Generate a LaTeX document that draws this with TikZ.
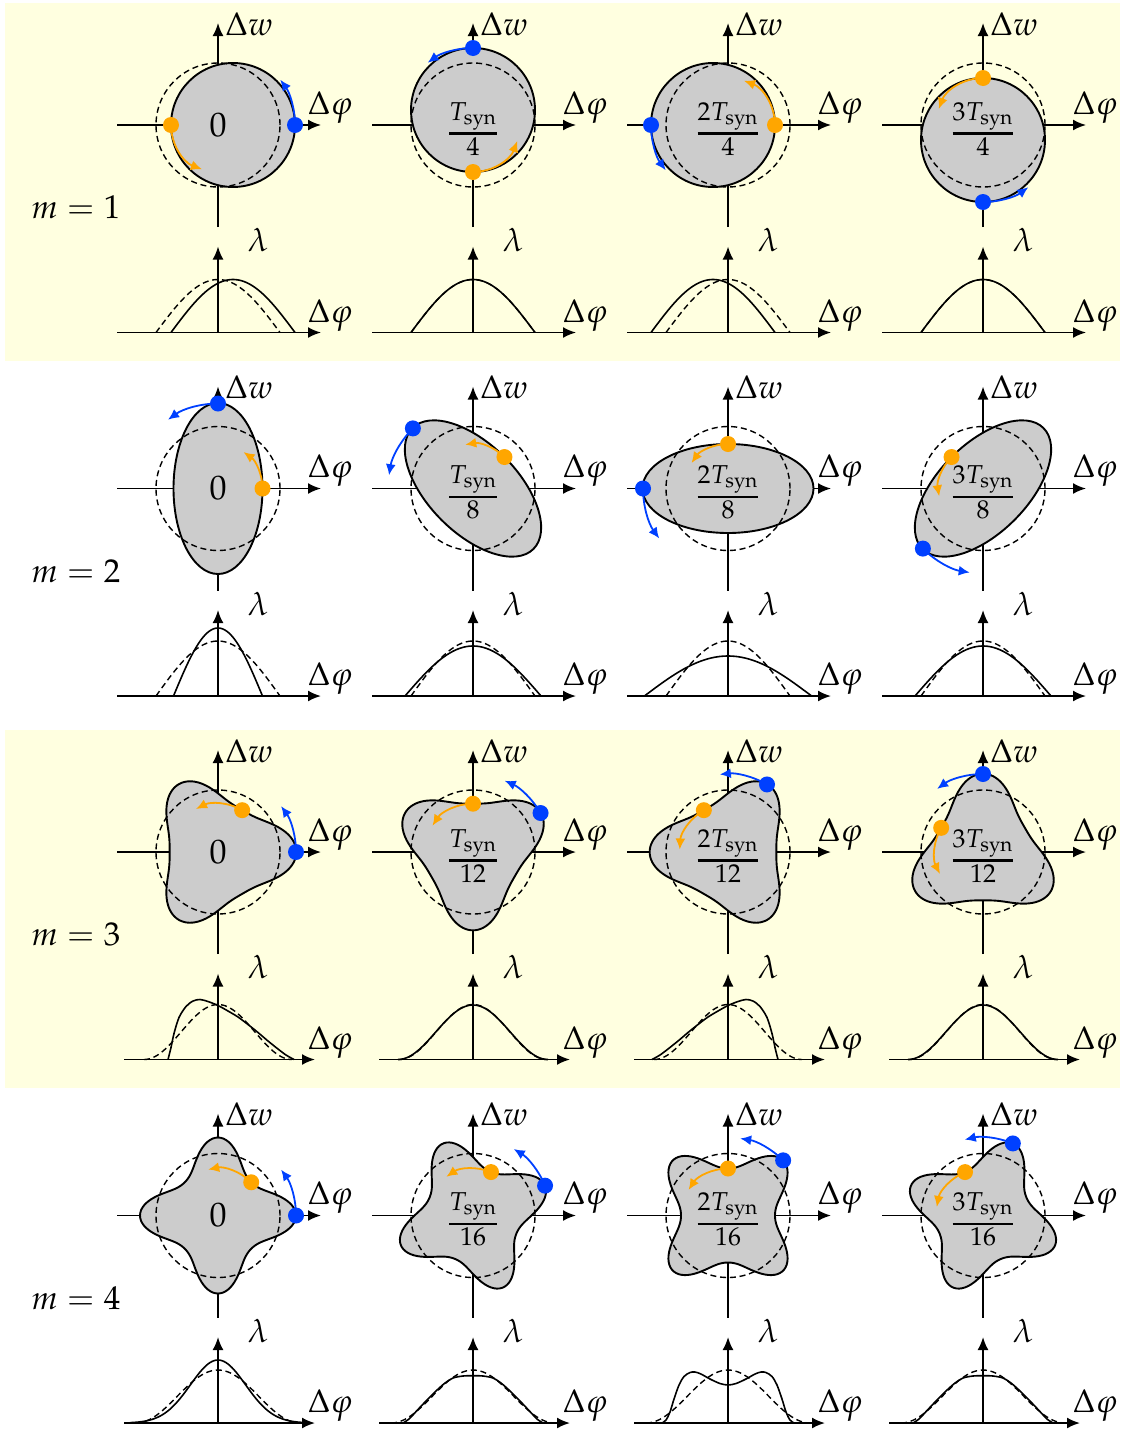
\documentclass[tikz,border=0pt]{standalone}
\usepackage{mathpazo}
\usetikzlibrary{arrows.meta}
\definecolor{bandyellow}{RGB}{255,255,224}
\definecolor{dotblue}{RGB}{0,64,255}
\definecolor{dotorange}{RGB}{255,166,0}
\tikzset{
  axis line/.style={line width=0.95pt, -{Latex[length=6.5pt,width=5.5pt]}},
  bunch/.style={fill=gray!40, draw=black, line width=0.95pt},
  ref line/.style={line width=0.7pt, dash pattern=on 3pt off 1.9pt},
  profile line/.style={line width=0.8pt},
  blue track/.style={dotblue, line width=0.9pt, -{Latex[length=5.5pt,width=5pt]}},
  orange track/.style={dotorange, line width=0.9pt, -{Latex[length=5.5pt,width=5pt]}},
  axis label/.style={font=\fontsize{16.4}{19}\selectfont, inner sep=0pt},
  time label/.style={font=\fontsize{17}{20}\selectfont, inner sep=0pt},
  mode label/.style={font=\fontsize{16.5}{20}\selectfont, inner sep=0pt, anchor=base west},
}
\newcommand{\phaseAxes}[1]{%
  \coordinate (#1xl) at (-101,0); \coordinate (#1xr) at (103,0);
  \coordinate (#1yb) at (0,-102); \coordinate (#1yt) at (0,102);
  \draw[axis line] (#1xl) -- (#1xr);
  \draw[axis line] (#1yb) -- (#1yt);
  \node[axis label] (#1dw) at (31,101) {$\Delta w$};
  \node[axis label] (#1dp) at (112,18) {$\Delta\varphi$};
}
\newcommand{\profileAxes}[3]{%
  \coordinate (#1xl) at (#2,0); \coordinate (#1xr) at (#3,0);
  \coordinate (#1yb) at (0,0); \coordinate (#1yt) at (0,86);
  \draw[axis line] (#1xl) -- (#1xr);
  \draw[axis line] (#1yb) -- (#1yt);
  \node[axis label] (#1lam) at (40,92) {$\lambda$};
  \node[axis label] (#1dp) at (112,17.5) {$\Delta\varphi$};
}
\newcommand{\tracks}[5]{%
  \draw[blue track] (#1:#2) arc[start angle=#1, delta angle=36, radius=#2];
  \draw[orange track] (#3:#4) arc[start angle=#3, delta angle=#5, radius=#4];
  \fill[dotorange] (#3:#4) circle[radius=8];
  \fill[dotblue] (#1:#2) circle[radius=8];
}
\newcommand{\timeLabel}[3]{%
  \ifnum#2=0
    \node[time label] (#1t) at (0,0) {$0$};
  \else
    \node[time label] (#1t) at (0,-4) {${\ifnum#2>1 #2\fi T_{\mathrm{syn}}\above 1.2pt #3}$};
  \fi}
\newcommand{\archProfile}[4]{%
  \pgfmathsetmacro\pLo{#4-#3}\pgfmathsetmacro\pHi{#4+#3}
  \draw[#1] plot[domain=\pLo:\pHi, samples=61] (\x,{#2*cos(90*(\x-(#4))/#3)});}
\newcommand{\bellProfile}[3]{%
  \draw[#1] plot[domain=-#3:#3, samples=81] (\x,{#2*cos(90*\x/#3)*cos(90*\x/#3)});}
\newcommand{\skewThree}[1]{%
  \draw[profile line,#1] plot[smooth] coordinates {(-50,0) (-47,12) (-44,26) (-39,42)
    (-32,53) (-25,58.5) (-18,60) (-10,58) (0,54) (10,48.5) (20,42.5) (30,35) (40,27)
    (50,18.5) (60,10.5) (68,4.5) (76,0)};}
\newcommand{\flatFour}{%
  \draw[profile line] plot[smooth] coordinates {(-70,0) (-64,4) (-56,12.5) (-47,22)
    (-37,32) (-28,40) (-20,45) (-10,47) (0,47.3) (10,47) (20,45) (28,40) (37,32)
    (47,22) (56,12.5) (64,4) (70,0)};}
\newcommand{\humpFour}{%
  \draw[profile line] plot[smooth] coordinates {(-66,0) (-62,3) (-58,11) (-54,24)
    (-49,38) (-44,46.5) (-38,50.5) (-33,51) (-27,49) (-18,44) (-8,39.5) (0,38)
    (8,39.5) (18,44) (27,49) (33,51) (38,50.5) (44,46.5) (49,38) (54,24) (58,11)
    (62,3) (66,0)};}

\begin{document}
\begin{tikzpicture}[x=0.5pt, y=0.5pt]
  \useasboundingbox (0,0) rectangle (1123,-1430);
  \fill[bandyellow] (5,-3) rectangle (1120,-361);
  \fill[bandyellow] (5,-730) rectangle (1120,-1088);
  \foreach \i in {1,...,4}
    \node[mode label] (mode\i) at (31,{-218.5-363.5*(\i-1)}) {$m = \i$};

  % m = 1
  \foreach \j/\a in {0/0,1/90,2/180,3/270}{
    \begin{scope}[shift={(218+255*\j,-125)}]
      \phaseAxes{a\j}
      \filldraw[bunch] (\a:15) circle[radius=62];
      \draw[ref line] (0,0) circle[radius=62];
      \pgfmathsetmacro\ao{\a+180}
      \tracks{\a}{77}{\ao}{47}{70}
      \timeLabel{a\j}{\j}{4}
    \end{scope}
    \begin{scope}[shift={(218+255*\j,-332.5)}]
      \profileAxes{pa\j}{-101}{103}
      \pgfmathsetmacro\ds{15*cos(\a)}
      \archProfile{ref line}{53}{62}{0}
      \archProfile{profile line}{53}{62}{\ds}
    \end{scope}
  }

  % m = 2
  \foreach \j/\a/\pw/\ph in {0/0/44.5/68,1/45/68/50,2/90/83.6/40,3/135/68/50}{
    \begin{scope}[shift={(218+255*\j,-488.5)}]
      \phaseAxes{b\j}
      \filldraw[bunch, rotate=\a] (0,0) ellipse[x radius=44.5, y radius=85.5];
      \draw[ref line] (0,0) circle[radius=62];
      \pgfmathsetmacro\ab{\a+90}
      \tracks{\ab}{85}{\a}{44.5}{55}
      \timeLabel{b\j}{\j}{8}
    \end{scope}
    \begin{scope}[shift={(218+255*\j,-696)}]
      \profileAxes{pb\j}{-101}{103}
      \archProfile{ref line}{55}{62}{0}
      \archProfile{profile line}{\ph}{\pw}{0}
    \end{scope}
  }

  % m = 3
  \foreach \j/\a in {0/0,1/30,2/60,3/90}{
    \begin{scope}[shift={(218+255*\j,-852)}]
      \phaseAxes{c\j}
      \filldraw[bunch] plot[domain=0:360, samples=181]
        (\x:{61+15*cos(3*(\x-\a))+2.35*cos(6*(\x-\a))}) -- cycle;
      \draw[ref line] (0,0) circle[radius=62];
      \pgfmathsetmacro\ao{\a+60}
      \tracks{\a}{78}{\ao}{48.3}{57}
      \timeLabel{c\j}{\j}{12}
    \end{scope}
    \begin{scope}[shift={(218+255*\j,-1059.5)}]
      \profileAxes{pc\j}{-94}{97}
      \bellProfile{ref line}{55}{74}
      \ifcase\j \skewThree{} \or \bellProfile{profile line}{54.5}{75}
      \or \skewThree{xscale=-1} \or \bellProfile{profile line}{54.5}{75} \fi
    \end{scope}
  }

  % m = 4
  \foreach \j/\a in {0/0,1/22.5,2/45,3/67.5}{
    \begin{scope}[shift={(218+255*\j,-1215.5)}]
      \phaseAxes{d\j}
      \filldraw[bunch] plot[domain=0:360, samples=181]
        (\x:{60.5+15.5*cos(4*(\x-\a))+2*cos(8*(\x-\a))}) -- cycle;
      \draw[ref line] (0,0) circle[radius=62];
      \pgfmathsetmacro\ao{\a+45}
      \tracks{\a}{78}{\ao}{47}{57}
      \timeLabel{d\j}{\j}{16}
    \end{scope}
    \begin{scope}[shift={(218+255*\j,-1423)}]
      \profileAxes{pd\j}{-94}{97}
      \bellProfile{ref line}{53}{82}
      \ifcase\j
        \draw[profile line] plot[domain=-88:88, samples=89] (\x,{63*exp(-\x*\x/1521)});
      \or \flatFour \or \humpFour \or \flatFour \fi
    \end{scope}
  }
\end{tikzpicture}
\end{document}
